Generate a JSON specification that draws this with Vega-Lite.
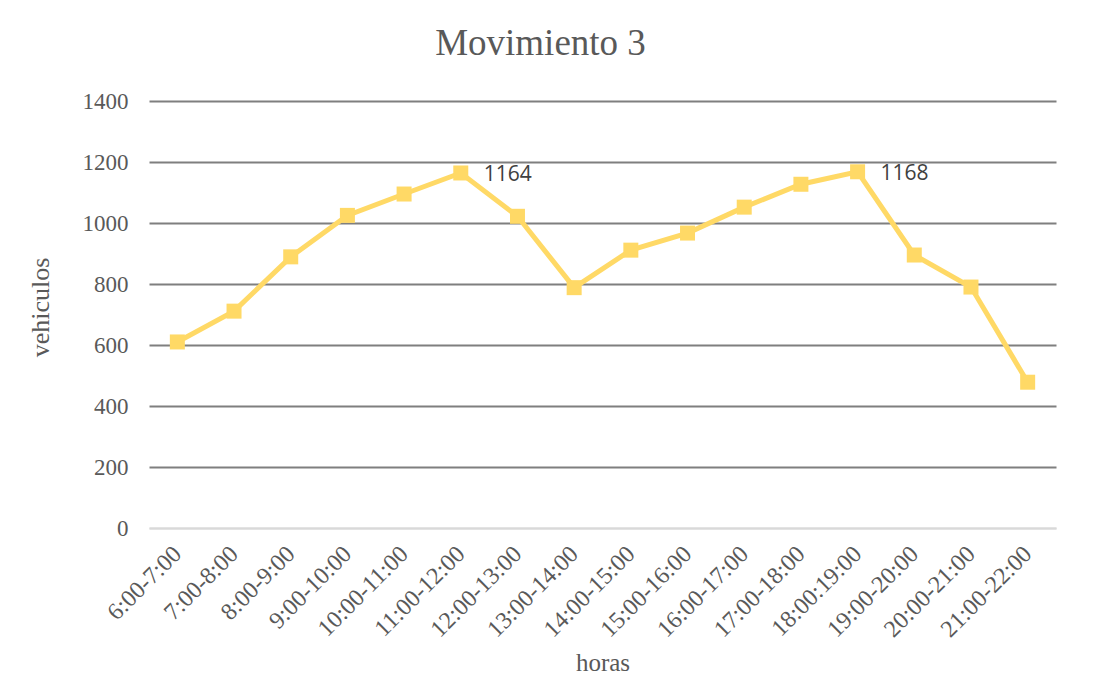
{
  "$schema": "https://vega.github.io/schema/vega-lite/v6.json",
  "width": 907,
  "height": 427,
  "autosize": {"type": "none"},
  "padding": {"left": 149, "top": 101, "right": 40, "bottom": 149},
  "background": "white",
  "title": {
    "text": "Movimiento 3",
    "font": "Liberation Serif",
    "fontSize": 37,
    "fontWeight": "normal",
    "color": "#595959",
    "anchor": "middle",
    "dx": -62,
    "offset": 27
  },
  "data": {
    "values": [
      {"hora": "6:00-7:00", "vehiculos": 610},
      {"hora": "7:00-8:00", "vehiculos": 711},
      {"hora": "8:00-9:00", "vehiculos": 889},
      {"hora": "9:00-10:00", "vehiculos": 1025},
      {"hora": "10:00-11:00", "vehiculos": 1095},
      {"hora": "11:00-12:00", "vehiculos": 1164},
      {"hora": "12:00-13:00", "vehiculos": 1022},
      {"hora": "13:00-14:00", "vehiculos": 788},
      {"hora": "14:00-15:00", "vehiculos": 911},
      {"hora": "15:00-16:00", "vehiculos": 967},
      {"hora": "16:00-17:00", "vehiculos": 1052},
      {"hora": "17:00-18:00", "vehiculos": 1127},
      {"hora": "18:00:19:00", "vehiculos": 1168},
      {"hora": "19:00-20:00", "vehiculos": 895},
      {"hora": "20:00-21:00", "vehiculos": 790},
      {"hora": "21:00-22:00", "vehiculos": 478}
    ]
  },
  "encoding": {
    "x": {
      "field": "hora",
      "type": "ordinal",
      "sort": null,
      "scale": {"padding": 0.5},
      "axis": {
        "title": "horas",
        "titleFont": "Liberation Serif",
        "titleFontSize": 25,
        "titleFontWeight": "normal",
        "titleColor": "#595959",
        "titleY": 134,
        "titleBaseline": "middle",
        "labelFont": "Liberation Serif",
        "labelFontSize": 24,
        "labelColor": "#595959",
        "labelAngle": -45,
        "labelAlign": "right",
        "labelBaseline": "middle",
        "labelPadding": 22,
        "ticks": false,
        "tickSize": 0,
        "domain": true,
        "domainColor": "#d9d9d9",
        "domainWidth": 2,
        "grid": false
      }
    },
    "y": {
      "field": "vehiculos",
      "type": "quantitative",
      "scale": {"domain": [0, 1400], "nice": false},
      "axis": {
        "title": "vehiculos",
        "titleFont": "Liberation Serif",
        "titleFontSize": 26,
        "titleFontWeight": "normal",
        "titleColor": "#595959",
        "titleAngle": -90,
        "titleX": -109,
        "titleY": 206,
        "titleAlign": "center",
        "titleBaseline": "middle",
        "values": [0, 200, 400, 600, 800, 1000, 1200, 1400],
        "format": "d",
        "labelFont": "Liberation Serif",
        "labelFontSize": 23,
        "labelColor": "#595959",
        "labelPadding": 21,
        "ticks": false,
        "tickSize": 0,
        "domain": false,
        "grid": true,
        "gridColor": {"condition": {"test": "datum.value === 0", "value": "#d9d9d9"}, "value": "#7f7f7f"},
        "gridWidth": 2
      }
    }
  },
  "layer": [
    {
      "mark": {"type": "line", "color": "#FFD966", "strokeWidth": 5}
    },
    {
      "mark": {"type": "point", "shape": "square", "filled": true, "color": "#FFD966", "opacity": 1, "size": 225}
    },
    {
      "transform": [{"filter": {"field": "hora", "oneOf": ["11:00-12:00", "18:00:19:00"]}}],
      "mark": {"type": "text", "align": "left", "baseline": "middle", "dx": 23, "dy": 2, "font": "Open Sans", "fontSize": 21, "color": "#404040"},
      "encoding": {"text": {"field": "vehiculos", "type": "quantitative"}}
    }
  ],
  "config": {
    "view": {"stroke": null}
  }
}
